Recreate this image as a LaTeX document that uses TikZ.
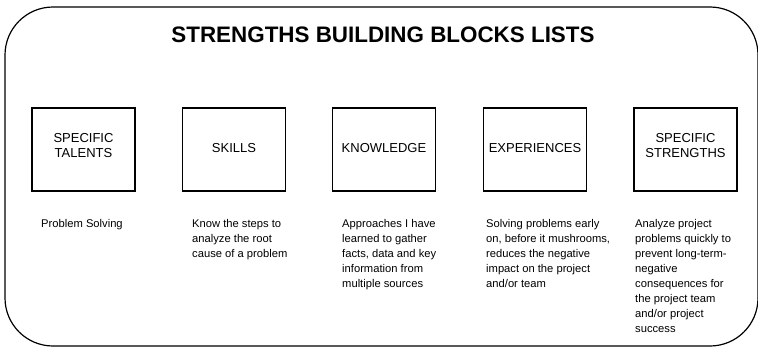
\documentclass[tikz,border=0pt]{standalone}
\usepackage{fontspec}
\setmainfont{Liberation Sans}
\begin{document}
\begin{tikzpicture}[x=1pt,y=-1pt,
    block/.style={draw,line width=1.8pt,minimum width=103pt,minimum height=83pt,
        align=center,text depth=3pt,font=\fontsize{13}{15}\selectfont},
    twoline/.style={block,text depth=8pt},
    note/.style={anchor=north west,inner sep=0pt,align=left,
        font=\fontsize{11.2}{15}\selectfont}]
    \useasboundingbox (0,0) rectangle (758,348);
    % outer frame, its right side runs off the edge
    \draw[line width=1.2pt,rounded corners=48pt] (5,7) rectangle (758,346);
    \node[anchor=base,font=\bfseries\fontsize{22.4}{26}\selectfont] (title) at (383,42)
        {STRENGTHS BUILDING BLOCKS LISTS};
    % the five blocks
    \node[twoline] (b1) at (83.5,149.5) {SPECIFIC\\TALENTS};
    \node[block] (b2) at (234,149.5) {SKILLS};
    \node[block] (b3) at (384,149.5) {KNOWLEDGE};
    \node[block] (b4) at (535,149.5) {EXPERIENCES};
    \node[twoline] (b5) at (685.5,149.5) {SPECIFIC\\STRENGTHS};
    % notes under each block
    \node[note] (d1) at (41,219.5) {Problem Solving};
    \node[note] (d2) at (192,219.5) {Know the steps to\\analyze the root\\cause of a problem};
    \node[note] (d3) at (342,219.5) {Approaches I have\\learned to gather\\facts, data and key\\information from\\multiple sources};
    \node[note] (d4) at (486,219.5) {Solving problems early\\on, before it mushrooms,\\reduces the negative\\impact on the project\\and/or team};
    \node[note] (d5) at (635,219.5) {Analyze project\\problems quickly to\\prevent long-term-\\negative\\consequences for\\the project team\\and/or project\\success};
\end{tikzpicture}
\end{document}
